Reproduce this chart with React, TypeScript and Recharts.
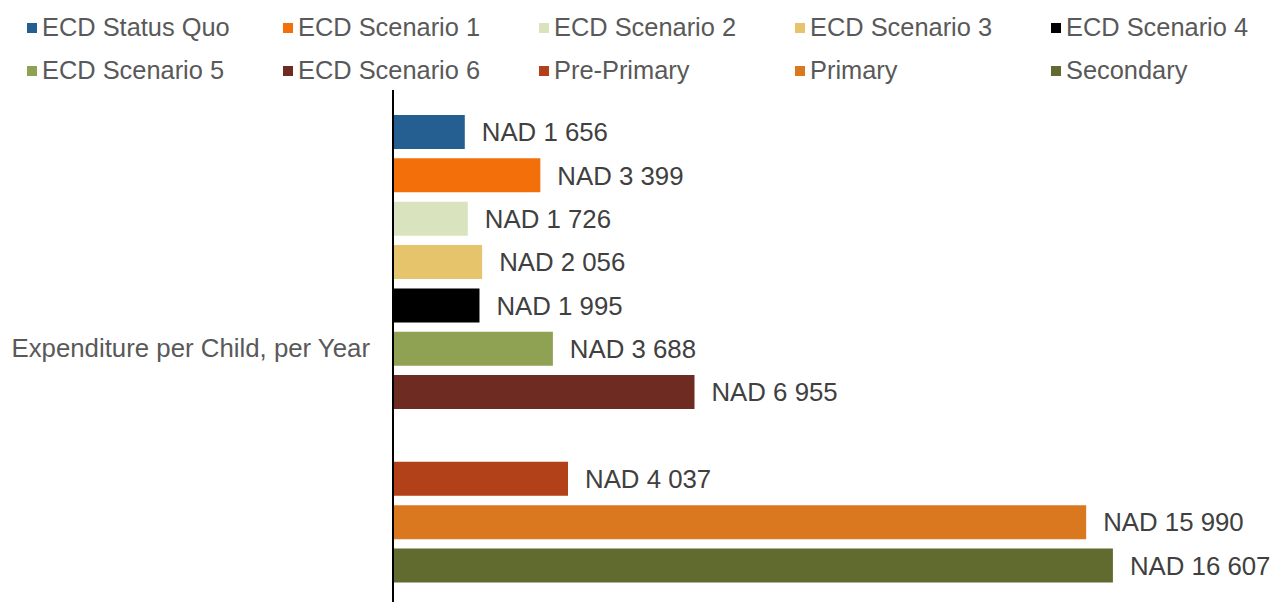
import React from "react";
import { BarChart, Bar, XAxis, YAxis, Legend, LabelList } from "recharts";

const categories = ["Expenditure per Child, per Year"];

const seriesNames = [
  "ECD Status Quo",
  "ECD Scenario 1",
  "ECD Scenario 2",
  "ECD Scenario 3",
  "ECD Scenario 4",
  "ECD Scenario 5",
  "ECD Scenario 6",
  "Pre-Primary",
  "Primary",
  "Secondary",
];

const seriesValues = [1656, 3399, 1726, 2056, 1995, 3688, 6955, 4037, 15990, 16607];

const seriesColors = [
  "#255E91",
  "#F36F09",
  "#D9E4BE",
  "#E6C46C",
  "#000000",
  "#8FA152",
  "#6E2B22",
  "#B24119",
  "#D9781F",
  "#616B2F",
];

// the ECD scenarios and the school levels are separated by one empty slot
const gapAfter = 6;

const data = categories.map((name) => {
  const row: Record<string, string | number | null> = { name, gap: null };
  seriesValues.forEach((v, i) => {
    row[`s${i}`] = v;
  });
  return row;
});

const fmt = (v: any) =>
  v == null ? "" : "NAD " + Math.round(Number(v)).toString().replace(/\B(?=(\d{3})+(?!\d))/g, " ");

const textColor = "#595959";

function LegendGrid({ payload }: any) {
  const items = (payload || [])
    .filter((p: any) => seriesNames.includes(p.value))
    .sort((a: any, b: any) => seriesNames.indexOf(a.value) - seriesNames.indexOf(b.value));
  return (
    <div
      style={{
        display: "grid",
        gridTemplateColumns: "repeat(5, 256px)",
        paddingLeft: 27,
      }}
    >
      {items.map((p: any) => (
        <div key={p.value} style={{ height: 43, display: "flex", alignItems: "center" }}>
          <span style={{ width: 10, height: 10, background: p.color, marginRight: 5, flexShrink: 0 }} />
          <span style={{ fontSize: 25.4, color: textColor, whiteSpace: "nowrap" }}>{p.value}</span>
        </div>
      ))}
    </div>
  );
}

export default function App() {
  const bars: React.ReactNode[] = [];
  seriesNames.forEach((name, i) => {
    bars.push(
      <Bar key={name} dataKey={`s${i}`} name={name} fill={seriesColors[i]} isAnimationActive={false}>
        <LabelList
          dataKey={`s${i}`}
          position="right"
          offset={17}
          formatter={fmt}
          fill="#404040"
          fontSize={25.8}
        />
      </Bar>
    );
    if (i === gapAfter) {
      bars.push(
        <Bar key="gap" dataKey="gap" legendType="none" fill="none" isAnimationActive={false} />
      );
    }
  });

  return (
    <div
      style={{
        position: "absolute",
        left: 0,
        top: 0,
        width: 1272,
        height: 602,
        overflow: "hidden",
        background: "#fff",
        fontFamily: "'Liberation Sans', Arial, sans-serif",
      }}
    >
      <BarChart
        width={1272}
        height={610}
        data={data}
        layout="vertical"
        margin={{ top: 90, right: 12, bottom: 3.5, left: 0 }}
        barSize={34}
        barGap={9.35}
      >
        <XAxis type="number" hide domain={[0, 20000]} />
        <YAxis
          type="category"
          dataKey="name"
          width={393}
          axisLine={{ stroke: "#000", strokeWidth: 2 }}
          tickLine={false}
          tickSize={0}
          tickMargin={23}
          tick={{ fill: textColor, fontSize: 25.8 }}
        />
        <Legend
          layout="vertical"
          align="center"
          verticalAlign="middle"
          content={<LegendGrid />}
          wrapperStyle={{ top: 6, left: 0, width: 1272, height: 86 }}
        />
        {bars}
      </BarChart>
    </div>
  );
}
